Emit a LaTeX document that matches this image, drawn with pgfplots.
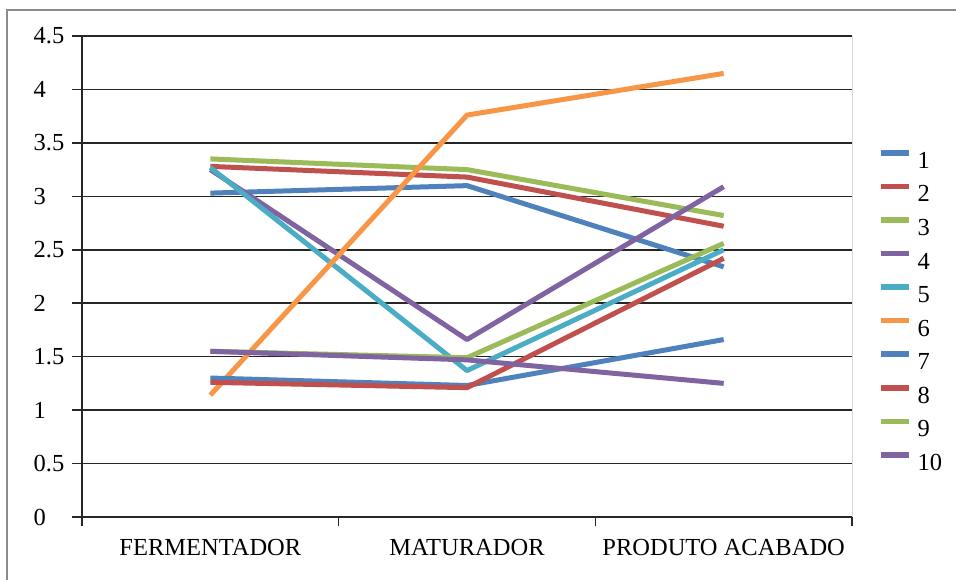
\documentclass[border=0pt]{standalone}
\usepackage{fontspec}
\setmainfont{Liberation Serif}
\usepackage{pgfplots}
\pgfplotsset{compat=1.18}

\definecolor{sBlue}{HTML}{4F81BD}
\definecolor{sRed}{HTML}{C0504D}
\definecolor{sGreen}{HTML}{9BBB59}
\definecolor{sPurple}{HTML}{8064A2}
\definecolor{sAqua}{HTML}{4BACC6}
\definecolor{sOrange}{HTML}{F79646}
\definecolor{gridc}{HTML}{262626}

\begin{document}
\fontsize{24.5bp}{29bp}\selectfont
\begin{tikzpicture}[x=1bp,y=1bp]
\useasboundingbox (0,0) rectangle (956,580);
\fill[white] (0,0) rectangle (956,580);
% chart area frame
\draw[black!45, line width=1.3bp] (7,0) -- (7,570) -- (956,570);
\begin{axis}[
  at={(82bp,63bp)}, anchor=south west,
  width=770bp, height=481bp, scale only axis,
  xmin=0, xmax=3, ymin=0, ymax=4.5,
  axis x line=bottom, axis y line=left,
  axis line style={gridc, line width=1.6bp, -},
  tick style={gridc, line width=1.6bp},
  tick align=outside, major tick length=9.5bp,
  xtick={0,1,2,3}, xticklabels={},
  extra x ticks={0.5,1.5,2.5},
  extra x tick labels={FERMENTADOR,MATURADOR,PRODUTO ACABADO},
  extra x tick style={major tick length=0pt, grid=none,
    xticklabel style={anchor=base, inner sep=0pt, yshift=-39bp}},
  ytick={0,0.5,1,1.5,2,2.5,3,3.5,4,4.5},
  yticklabels={0,0.5,1,1.5,2,2.5,3,3.5,4,4.5},
  yticklabel style={anchor=west, inner sep=0pt, xshift=-39bp},
  ymajorgrids, grid style={gridc, line width=1.6bp},
  clip=false,
  legend cell align=left,
  legend style={at={(rel axis cs:1.0338,0.763)}, anchor=north west,
    draw=none, fill=none, inner sep=0pt, row sep=15.3bp, column sep=6bp,
    nodes={inner sep=0pt, text height=16bp, text depth=0pt}},
  legend image code/.code={\draw[#1, line width=5.5bp] (0bp,7.5bp) -- (28bp,7.5bp);},
  every axis plot/.append style={line width=5bp, line join=round, mark=none},
]
% plot area right border
\draw[black!15, line width=1bp] (rel axis cs:1,0) -- (rel axis cs:1,1);
\addplot[sBlue]   coordinates {(0.5,3.03) (1.5,3.10) (2.5,2.34)};
\addlegendentry{1}
\addplot[sRed]    coordinates {(0.5,3.28) (1.5,3.18) (2.5,2.72)};
\addlegendentry{2}
\addplot[sGreen]  coordinates {(0.5,3.35) (1.5,3.25) (2.5,2.82)};
\addlegendentry{3}
\addplot[sPurple] coordinates {(0.5,3.25) (1.5,1.66) (2.5,3.09)};
\addlegendentry{4}
\addplot[sAqua]   coordinates {(0.5,3.27) (1.5,1.37) (2.5,2.50)};
\addlegendentry{5}
\addplot[sOrange] coordinates {(0.5,1.14) (1.5,3.76) (2.5,4.15)};
\addlegendentry{6}
\addplot[sBlue]   coordinates {(0.5,1.30) (1.5,1.23) (2.5,1.66)};
\addlegendentry{7}
\addplot[sRed]    coordinates {(0.5,1.26) (1.5,1.21) (2.5,2.42)};
\addlegendentry{8}
\addplot[sGreen]  coordinates {(0.5,1.55) (1.5,1.49) (2.5,2.56)};
\addlegendentry{9}
\addplot[sPurple] coordinates {(0.5,1.55) (1.5,1.47) (2.5,1.25)};
\addlegendentry{10}
\end{axis}
\end{tikzpicture}
\end{document}
